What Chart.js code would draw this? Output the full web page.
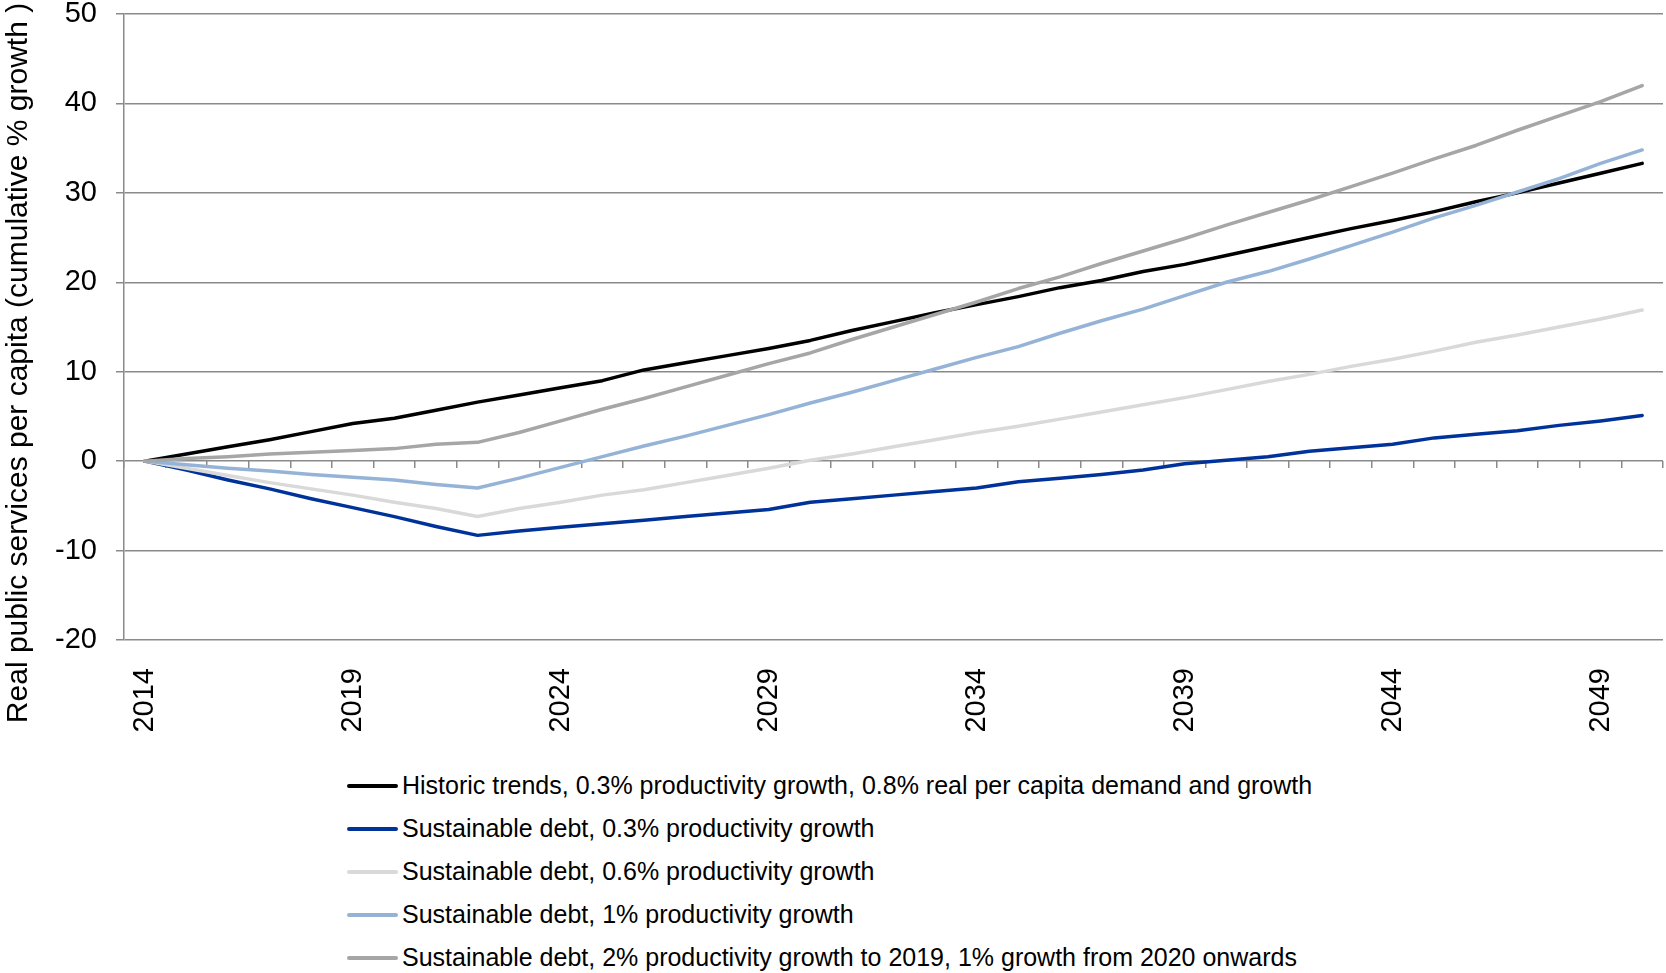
<!DOCTYPE html>
<html>
<head>
<meta charset="utf-8">
<script src="https://cdn.jsdelivr.net/npm/chart.js@4"></script>
<style>
  body { margin: 0; background: #fff; font-family: 'Liberation Sans', Arial, sans-serif; }
  #wrap { width: 1666px; height: 973px; position: relative; }
  canvas { display: block; }
  #legend { width: 1666px; }
  .row { height: 43px; display: flex; align-items: center; }
  .swatch { width: 51px; height: 4px; margin-left: 347px; border-radius: 2px; }
  .label { margin-left: 4px; font-size: 25px; color: #000; white-space: nowrap; }
</style>
</head>
<body>
<div id="wrap">
  <canvas id="theChart" width="1666" height="764"></canvas>
  <div id="legend"></div>
</div>
<script>
'use strict';

// data
const years = [];
for (let y = 2014; y <= 2050; y++) {
  years.push(String(y));
}

const seriesNames = [
  'Historic trends, 0.3% productivity growth, 0.8% real per capita demand and growth',
  'Sustainable debt, 0.3% productivity growth',
  'Sustainable debt, 0.6% productivity growth',
  'Sustainable debt, 1% productivity growth',
  'Sustainable debt, 2% productivity growth to 2019, 1% growth from 2020 onwards'
];

const historic = [0, 0.8, 1.6, 2.4, 3.3, 4.2, 4.8, 5.7, 6.6, 7.4, 8.2, 9.0, 10.2, 11.0, 11.8, 12.6, 13.5, 14.6, 15.6, 16.6,
  17.5, 18.4, 19.4, 20.2, 21.2, 22.0, 23.0, 24.0, 25.0, 26.0, 26.9, 27.9, 29.0, 30.0, 31.1, 32.2, 33.3];
const debt03 = [0, -1.0, -2.1, -3.1, -4.2, -5.2, -6.2, -7.3, -8.3, -7.8, -7.4, -7.0, -6.6, -6.2, -5.8, -5.4, -4.6, -4.2, -3.8, -3.4,
  -3.0, -2.3, -1.9, -1.5, -1.0, -0.3, 0.1, 0.5, 1.1, 1.5, 1.9, 2.6, 3.0, 3.4, 4.0, 4.5, 5.1];
const debt06 = [0, -0.8, -1.6, -2.4, -3.1, -3.8, -4.6, -5.3, -6.2, -5.3, -4.6, -3.8, -3.2, -2.4, -1.6, -0.8, 0.1, 0.8, 1.6, 2.4,
  3.2, 3.9, 4.7, 5.5, 6.3, 7.1, 8.0, 8.9, 9.7, 10.6, 11.4, 12.3, 13.3, 14.1, 15.0, 15.9, 16.9];
const debt1 = [0, -0.4, -0.8, -1.1, -1.5, -1.8, -2.1, -2.6, -3.0, -1.9, -0.7, 0.5, 1.7, 2.8, 4.0, 5.2, 6.5, 7.7, 9.0, 10.3,
  11.6, 12.8, 14.3, 15.7, 17.0, 18.5, 20.0, 21.2, 22.6, 24.1, 25.6, 27.2, 28.6, 30.1, 31.6, 33.3, 34.8];
const debt2 = [0, 0.3, 0.5, 0.8, 1.0, 1.2, 1.4, 1.9, 2.1, 3.2, 4.5, 5.8, 7.0, 8.3, 9.6, 10.9, 12.1, 13.6, 15.0, 16.4,
  17.8, 19.3, 20.6, 22.1, 23.5, 24.9, 26.4, 27.8, 29.2, 30.7, 32.2, 33.8, 35.3, 37.0, 38.6, 40.2, 42.0];

const seriesColors = ['#000000', '#003399', '#d9d9d9', '#95b3d7', '#a6a6a6'];
const yTicks = { min: -20, max: 50, step: 10 };
const yTitle = 'Real public services per capita (cumulative % growth )';

const gridColor = '#8a8a8a';
Chart.defaults.font.family = "'Liberation Sans', Arial, sans-serif";
Chart.defaults.color = '#000';

const allSeries = [historic, debt03, debt06, debt1, debt2];
const datasets = [];
for (let i = 0; i < allSeries.length; i++) {
  datasets.push({
    label: seriesNames[i],
    data: allSeries[i],
    borderColor: seriesColors[i],
    backgroundColor: seriesColors[i],
    borderWidth: 3.5,
    borderCapStyle: 'round',
    borderJoinStyle: 'round',
    pointRadius: 0,
    tension: 0,
    xAxisID: 'x',
    yAxisID: 'y',
    order: allSeries.length - i // later series on top, like the original
  });
}

// rotated y axis title
const yTitlePlugin = {
  id: 'yTitle',
  afterDraw(chart) {
    let ctx = chart.ctx;
    ctx.save();
    ctx.translate(19, 363);
    ctx.rotate(-Math.PI / 2);
    ctx.font = "30px 'Liberation Sans', Arial, sans-serif";
    ctx.fillStyle = '#000';
    ctx.textAlign = 'center';
    ctx.textBaseline = 'middle';
    ctx.fillText(yTitle, 0, 0);
    ctx.restore();
  }
};

const config = {
  type: 'line',
  data: { labels: years, datasets: datasets },
  options: {
    responsive: false,
    animation: false,
    devicePixelRatio: 1,
    layout: { padding: { top: 14, right: 3, left: 0, bottom: 0 } },
    plugins: { legend: { display: false }, tooltip: { enabled: false } },
    scales: {
      x: {
        type: 'category',
        offset: true,
        position: 'bottom',
        grid: { display: false, drawTicks: false },
        border: { display: false },
        ticks: {
          autoSkip: false,
          minRotation: 90,
          maxRotation: 90,
          padding: 28,
          font: { size: 29 },
          color: '#000',
          callback: function (value, index) {
            return index % 5 === 0 ? years[index] : '';
          }
        },
        afterFit: function (scale) {
          scale.height = 124;
          scale.paddingLeft = 0;
          scale.paddingRight = 0;
        }
      },
      // tick marks along the zero line
      x2: {
        type: 'category',
        labels: years,
        offset: true,
        position: { y: 0 },
        grid: { drawOnChartArea: false, offset: true, tickLength: 7, color: gridColor, lineWidth: 1.5 },
        border: { display: false },
        ticks: { display: false, autoSkip: false },
        afterFit: function (scale) {
          scale.paddingLeft = 0;
          scale.paddingRight = 0;
        }
      },
      y: {
        min: yTicks.min,
        max: yTicks.max,
        grid: { color: gridColor, lineWidth: 1.5, tickLength: 8 },
        border: { color: gridColor, width: 1.5 },
        ticks: {
          stepSize: yTicks.step,
          padding: 19,
          font: { size: 29, lineHeight: 1.0 },
          color: '#000'
        },
        afterFit: function (scale) {
          scale.width = 124;
          scale.paddingTop = 0;
          scale.paddingBottom = 0;
        }
      }
    }
  },
  plugins: [yTitlePlugin]
};

new Chart(document.getElementById('theChart'), config);

// legend, one item per row
let legend = document.getElementById('legend');
for (let i = 0; i < seriesNames.length; i++) {
  let row = document.createElement('div');
  row.className = 'row';
  let swatch = document.createElement('span');
  swatch.className = 'swatch';
  swatch.style.background = seriesColors[i];
  let label = document.createElement('span');
  label.className = 'label';
  label.textContent = seriesNames[i];
  row.appendChild(swatch);
  row.appendChild(label);
  legend.appendChild(row);
}
</script>
</body>
</html>
